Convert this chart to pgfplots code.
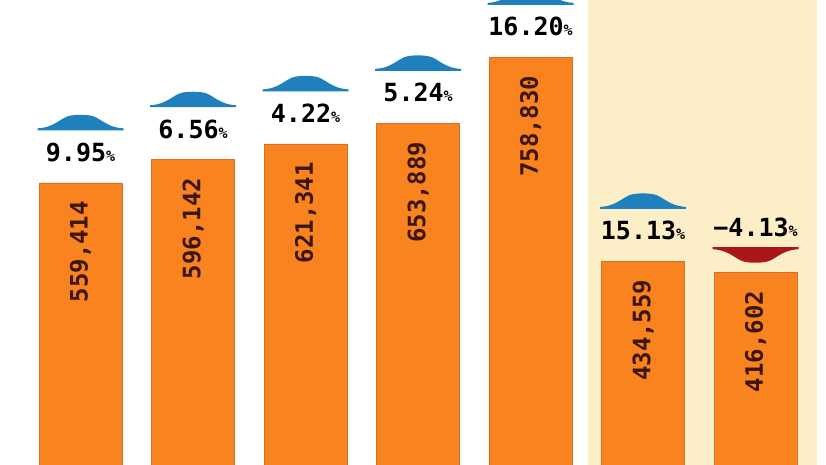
\documentclass[border=0pt]{standalone}
\usepackage{pgfplots}
\pgfplotsset{compat=1.18}
\usepackage{pgfplotstable}
\usepackage{fontspec}
\setmainfont{DejaVu Sans}
\newfontfamily\numfont{DejaVu Sans Mono}

\definecolor{barorange}{RGB}{248,131,31}
\definecolor{baredge}{RGB}{214,112,40}
\definecolor{panel}{RGB}{252,239,199}
\definecolor{upblue}{RGB}{32,128,190}
\definecolor{downred}{RGB}{170,22,26}
\definecolor{numbrown}{RGB}{60,22,12}
\newcommand\pc{{\fontsize{15}{15}\selectfont\%}}

% flat dome shaped change markers
\pgfdeclareplotmark{uparr}{%
  \pgfpathmoveto{\pgfpoint{-43pt}{-7.5pt}}
  \pgfpathlineto{\pgfpoint{-43pt}{-5.5pt}}
  \pgfpathcurveto{\pgfpoint{-32pt}{-5pt}}{\pgfpoint{-26pt}{-1pt}}{\pgfpoint{-18pt}{4pt}}
  \pgfpathcurveto{\pgfpoint{-13pt}{7.5pt}}{\pgfpoint{-7pt}{8pt}}{\pgfpoint{0pt}{8pt}}
  \pgfpathcurveto{\pgfpoint{7pt}{8pt}}{\pgfpoint{13pt}{7.5pt}}{\pgfpoint{18pt}{4pt}}
  \pgfpathcurveto{\pgfpoint{26pt}{-1pt}}{\pgfpoint{32pt}{-5pt}}{\pgfpoint{43pt}{-5.5pt}}
  \pgfpathlineto{\pgfpoint{43pt}{-7.5pt}}
  \pgfpathclose
  \pgfusepathqfill}
\pgfdeclareplotmark{downarr}{%
  \pgfpathmoveto{\pgfpoint{-43pt}{7.5pt}}
  \pgfpathlineto{\pgfpoint{-43pt}{5.5pt}}
  \pgfpathcurveto{\pgfpoint{-32pt}{5pt}}{\pgfpoint{-26pt}{1pt}}{\pgfpoint{-18pt}{-4pt}}
  \pgfpathcurveto{\pgfpoint{-13pt}{-7.5pt}}{\pgfpoint{-7pt}{-8pt}}{\pgfpoint{0pt}{-8pt}}
  \pgfpathcurveto{\pgfpoint{7pt}{-8pt}}{\pgfpoint{13pt}{-7.5pt}}{\pgfpoint{18pt}{-4pt}}
  \pgfpathcurveto{\pgfpoint{26pt}{1pt}}{\pgfpoint{32pt}{5pt}}{\pgfpoint{43pt}{5.5pt}}
  \pgfpathlineto{\pgfpoint{43pt}{7.5pt}}
  \pgfpathclose
  \pgfusepathqfill}

\pgfplotstableread{
x val lab
0 559414 559,414
1 596142 596,142
2 621341 621,341
3 653889 653,889
4 758830 758,830
5 434559 434,559
6 416602 416,602
}\bars

\pgfplotstableread{
x val pct
0 559414 9.95\pc
1 596142 6.56\pc
2 621341 4.22\pc
3 653889 5.24\pc
4 758830 16.20\pc
5 434559 15.13\pc
}\upchg

\pgfplotstableread{
x val pct
6 416602 −4.13\pc
}\downchg

\begin{document}
\begin{tikzpicture}
\begin{axis}[
    width=826pt, height=465pt,
    scale only axis,
    hide axis,
    xmin=-0.716, xmax=6.626,
    ymin=111000, ymax=850000,
  ]
  % shaded panel behind the last two bars
  \addplot[fill=panel, draw=none] coordinates
    {(4.511,111000) (4.511,850000) (6.546,850000) (6.546,111000)} -- cycle;

  \addplot[ybar, bar width=83pt, bar shift=0pt,
    fill=barorange, draw=baredge, line width=0.6pt,
    nodes near coords, point meta=explicit symbolic,
    nodes near coords style={yshift=-18pt, rotate=90, anchor=east,
      inner sep=0pt, text=numbrown, font=\numfont\bfseries\fontsize{24}{24}\selectfont}]
    table[x=x, y=val, meta=lab] {\bars};

  \addplot[draw=none, nodes near coords, point meta=explicit symbolic,
    nodes near coords style={anchor=base, yshift=21.5pt, inner sep=0pt,
      text=black, font=\numfont\bfseries\fontsize{25}{25}\selectfont}]
    table[x=x, y=val, meta=pct] {\upchg};
  \addplot[draw=none, nodes near coords, point meta=explicit symbolic,
    nodes near coords style={anchor=base, yshift=36pt, inner sep=0pt,
      text=black, font=\numfont\bfseries\fontsize{25}{25}\selectfont}]
    table[x=x, y=val, meta=pct] {\downchg};

  \addplot[only marks, mark=uparr,
    mark options={fill=upblue, draw=none, yshift=60pt}]
    table[x=x, y=val] {\upchg};
  \addplot[only marks, mark=downarr,
    mark options={fill=downred, draw=none, yshift=18pt}]
    table[x=x, y=val] {\downchg};
\end{axis}
\pgfresetboundingbox
\useasboundingbox (current axis.south west) rectangle (current axis.north east);
\end{tikzpicture}
\end{document}
